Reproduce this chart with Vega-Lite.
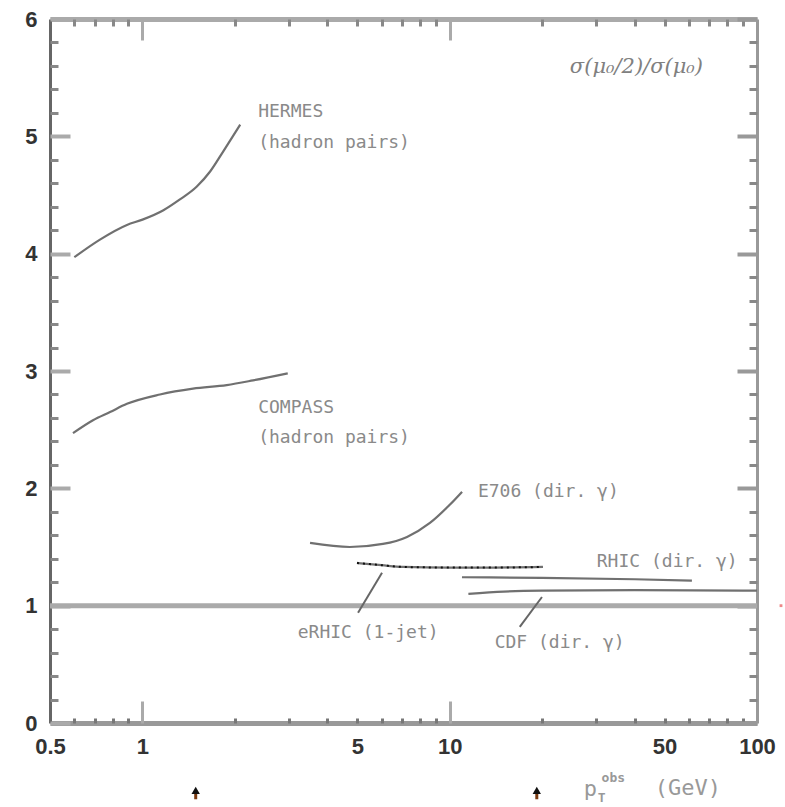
{
  "$schema": "https://vega.github.io/schema/vega-lite/v6.json",
  "width": 707,
  "height": 704,
  "autosize": {"type": "none"},
  "padding": {"left": 50, "top": 19, "right": 28, "bottom": 84},
  "background": "white",
  "config": {"view": {"stroke": null}, "axis": {"grid": false}},
  "datasets": {
    "curves": [
      {"series": "HERMES", "x": 0.6, "y": 3.97},
      {"series": "HERMES", "x": 0.727, "y": 4.12},
      {"series": "HERMES", "x": 0.89, "y": 4.245},
      {"series": "HERMES", "x": 1.0, "y": 4.29},
      {"series": "HERMES", "x": 1.17, "y": 4.37},
      {"series": "HERMES", "x": 1.32, "y": 4.46},
      {"series": "HERMES", "x": 1.5, "y": 4.57},
      {"series": "HERMES", "x": 1.66, "y": 4.7},
      {"series": "HERMES", "x": 1.83, "y": 4.87},
      {"series": "HERMES", "x": 2.08, "y": 5.1},
      {"series": "COMPASS", "x": 0.594, "y": 2.47},
      {"series": "COMPASS", "x": 0.69, "y": 2.58},
      {"series": "COMPASS", "x": 0.784, "y": 2.65},
      {"series": "COMPASS", "x": 0.89, "y": 2.72},
      {"series": "COMPASS", "x": 1.14, "y": 2.8},
      {"series": "COMPASS", "x": 1.46, "y": 2.85},
      {"series": "COMPASS", "x": 1.88, "y": 2.88},
      {"series": "COMPASS", "x": 2.29, "y": 2.92},
      {"series": "COMPASS", "x": 2.97, "y": 2.98},
      {"series": "E706", "x": 3.51, "y": 1.535},
      {"series": "E706", "x": 4.73, "y": 1.5},
      {"series": "E706", "x": 6.06, "y": 1.526},
      {"series": "E706", "x": 7.26, "y": 1.586},
      {"series": "E706", "x": 8.62, "y": 1.705},
      {"series": "E706", "x": 10.0, "y": 1.86},
      {"series": "E706", "x": 10.96, "y": 1.97},
      {"series": "eRHIC", "x": 4.99, "y": 1.364},
      {"series": "eRHIC", "x": 6.0, "y": 1.345},
      {"series": "eRHIC", "x": 7.04, "y": 1.33},
      {"series": "eRHIC", "x": 10, "y": 1.325},
      {"series": "eRHIC", "x": 14, "y": 1.325},
      {"series": "eRHIC", "x": 20.1, "y": 1.33},
      {"series": "RHIC", "x": 10.96, "y": 1.242},
      {"series": "RHIC", "x": 20, "y": 1.237},
      {"series": "RHIC", "x": 40, "y": 1.225},
      {"series": "RHIC", "x": 61.4, "y": 1.213},
      {"series": "CDF", "x": 11.5, "y": 1.1},
      {"series": "CDF", "x": 15, "y": 1.12},
      {"series": "CDF", "x": 20, "y": 1.128},
      {"series": "CDF", "x": 40, "y": 1.132},
      {"series": "CDF", "x": 100, "y": 1.128},
      {"series": "eRHIC pointer", "x": 6.02, "y": 1.28},
      {"series": "eRHIC pointer", "x": 5.03, "y": 0.94},
      {"series": "CDF pointer", "x": 19.96, "y": 1.074},
      {"series": "CDF pointer", "x": 16.9, "y": 0.82}
    ],
    "labels": [
      {"text": "HERMES", "x": 2.38, "y": 5.21},
      {"text": "(hadron pairs)", "x": 2.38, "y": 4.94},
      {"text": "COMPASS", "x": 2.38, "y": 2.685},
      {"text": "(hadron pairs)", "x": 2.38, "y": 2.43},
      {"text": "E706 (dir. γ)", "x": 12.35, "y": 1.97},
      {"text": "RHIC (dir. γ)", "x": 30.1, "y": 1.37},
      {"text": "eRHIC (1-jet)", "x": 3.2, "y": 0.77},
      {"text": "CDF (dir. γ)", "x": 14.0, "y": 0.68}
    ],
    "sigma": [{"text": "σ(μ₀/2)/σ(μ₀)", "x": 24.6, "y": 5.59}],
    "titleBig": [
      {"text": "p", "x": 27.3, "y": -0.56},
      {"text": "(GeV)", "x": 46.5, "y": -0.554}
    ],
    "titleSmall": [
      {"text": "T", "x": 30.3, "y": -0.64},
      {"text": "obs", "x": 31.2, "y": -0.47}
    ],
    "arrowStems": [
      {"x": 1.49, "y": -0.65},
      {"x": 19.2, "y": -0.65}
    ],
    "arrowHeads": [
      {"x": 1.49, "y": -0.575},
      {"x": 19.2, "y": -0.575}
    ],
    "one": [{"y": 1}],
    "dot": [{"x": 119.7, "y": 1.0}]
  },
  "resolve": {"axis": {"x": "independent", "y": "independent"}},
  "layer": [
    {
      "data": {"name": "one"},
      "mark": {"type": "rule", "color": "#aaaaaa", "strokeWidth": 5},
      "encoding": {
        "y": {
          "field": "y", "type": "quantitative",
          "scale": {"domain": [0, 6], "nice": false, "zero": false},
          "axis": {"orient": "left", "values": [0, 1, 2, 3, 4, 5, 6], "ticks": false, "labelPadding": 13,
                   "labelFont": "Liberation Sans", "labelFontSize": 22, "labelFontWeight": "bold", "labelColor": "#333", "title": null,
                   "domain": true, "domainColor": "#666", "domainWidth": 3}
        }
      }
    },
    {
      "data": {"name": "curves"},
      "transform": [{"filter": "datum.series != 'eRHIC pointer' && datum.series != 'CDF pointer'"}],
      "mark": {"type": "line", "color": "#707070", "strokeWidth": 2.2, "interpolate": "monotone"},
      "encoding": {
        "x": {
          "field": "x", "type": "quantitative",
          "scale": {"type": "log", "domain": [0.5, 100], "nice": false},
          "axis": {"orient": "bottom", "values": [0.5, 1, 5, 10, 50, 100], "ticks": false, "labelPadding": 13,
                   "labelFlush": false, "labelFont": "Liberation Sans", "labelFontSize": 22, "labelFontWeight": "bold", "labelColor": "#333",
                   "title": null, "domain": true, "domainColor": "#999", "domainWidth": 5, "format": "~g"}
        },
        "y": {
          "field": "y", "type": "quantitative",
          "scale": {"domain": [0, 6], "nice": false, "zero": false},
          "axis": {"orient": "left", "values": [0, 1, 2, 3, 4, 5, 6], "labels": false, "domain": false,
                   "tickSize": -20, "tickColor": "#aaa", "tickWidth": 4, "title": null}
        },
        "detail": {"field": "series"}
      }
    },
    {
      "data": {"name": "curves"},
      "transform": [{"filter": "datum.series == 'eRHIC'"}],
      "mark": {"type": "line", "color": "#111", "strokeWidth": 2, "strokeDash": [2, 4], "interpolate": "monotone"},
      "encoding": {
        "x": {
          "field": "x", "type": "quantitative",
          "scale": {"type": "log", "domain": [0.5, 100], "nice": false},
          "axis": {"orient": "bottom", "values": [1, 10], "labels": false, "domain": false,
                   "tickSize": -22, "tickColor": "#aaa", "tickWidth": 3, "title": null}
        },
        "y": {
          "field": "y", "type": "quantitative",
          "scale": {"domain": [0, 6], "nice": false, "zero": false},
          "axis": {"orient": "left", "values": [0.2, 0.4, 0.6, 0.8, 1.2, 1.4, 1.6, 1.8, 2.2, 2.4, 2.6, 2.8, 3.2, 3.4, 3.6, 3.8, 4.2, 4.4, 4.6, 4.8, 5.2, 5.4, 5.6, 5.8],
                   "labels": false, "domain": false, "tickSize": -8, "tickColor": "#888", "tickWidth": 3, "title": null}
        }
      }
    },
    {
      "data": {"name": "curves"},
      "transform": [{"filter": "datum.series == 'eRHIC pointer' || datum.series == 'CDF pointer'"}],
      "mark": {"type": "line", "color": "#666", "strokeWidth": 2},
      "encoding": {
        "x": {
          "field": "x", "type": "quantitative",
          "scale": {"type": "log", "domain": [0.5, 100], "nice": false},
          "axis": {"orient": "bottom", "values": [0.6, 0.7, 0.8, 0.9, 2, 3, 4, 5, 6, 7, 8, 9, 20, 30, 40, 50, 60, 70, 80, 90],
                   "labels": false, "domain": false, "tickSize": -5, "tickColor": "#777", "tickWidth": 3, "title": null}
        },
        "y": {
          "field": "y", "type": "quantitative",
          "scale": {"domain": [0, 6], "nice": false, "zero": false},
          "axis": {"orient": "right", "values": [0, 1, 2, 3, 4, 5, 6], "labels": false, "domain": true,
                   "domainColor": "#999", "domainWidth": 3,
                   "tickSize": -20, "tickColor": "#999", "tickWidth": 4, "title": null}
        },
        "detail": {"field": "series"}
      }
    },
    {
      "data": {"name": "labels"},
      "mark": {"type": "text", "align": "left", "baseline": "middle", "font": "DejaVu Sans Mono", "fontSize": 18, "color": "#8a8a8a"},
      "encoding": {
        "x": {
          "field": "x", "type": "quantitative",
          "scale": {"type": "log", "domain": [0.5, 100], "nice": false},
          "axis": {"orient": "top", "values": [1, 10], "labels": false, "domain": true, "domainColor": "#aaa", "domainWidth": 5,
                   "tickSize": -21, "tickColor": "#aaa", "tickWidth": 3, "title": null}
        },
        "y": {
          "field": "y", "type": "quantitative",
          "scale": {"domain": [0, 6], "nice": false, "zero": false},
          "axis": {"orient": "right", "values": [0.2, 0.4, 0.6, 0.8, 1.2, 1.4, 1.6, 1.8, 2.2, 2.4, 2.6, 2.8, 3.2, 3.4, 3.6, 3.8, 4.2, 4.4, 4.6, 4.8, 5.2, 5.4, 5.6, 5.8],
                   "labels": false, "domain": false, "tickSize": -8, "tickColor": "#888", "tickWidth": 3, "title": null}
        },
        "text": {"field": "text"}
      }
    },
    {
      "data": {"name": "sigma"},
      "mark": {"type": "text", "align": "left", "baseline": "middle", "font": "DejaVu Serif", "fontStyle": "italic", "fontSize": 21, "color": "#808080"},
      "encoding": {
        "x": {
          "field": "x", "type": "quantitative",
          "scale": {"type": "log", "domain": [0.5, 100], "nice": false},
          "axis": {"orient": "top", "values": [0.6, 0.7, 0.8, 0.9, 2, 3, 4, 5, 6, 7, 8, 9, 20, 30, 40, 50, 60, 70, 80, 90],
                   "labels": false, "domain": false, "tickSize": -7, "tickColor": "#888", "tickWidth": 3, "title": null}
        },
        "y": {"field": "y", "type": "quantitative", "scale": {"domain": [0, 6], "nice": false, "zero": false}, "axis": null},
        "text": {"field": "text"}
      }
    },
    {
      "data": {"name": "titleBig"},
      "mark": {"type": "text", "align": "left", "baseline": "middle", "font": "DejaVu Sans Mono", "fontSize": 22, "color": "#999"},
      "encoding": {
        "x": {"field": "x", "type": "quantitative", "scale": {"type": "log", "domain": [0.5, 100], "nice": false}, "axis": null},
        "y": {"field": "y", "type": "quantitative", "scale": {"domain": [0, 6], "nice": false, "zero": false}, "axis": null},
        "text": {"field": "text"}
      }
    },
    {
      "data": {"name": "titleSmall"},
      "mark": {"type": "text", "align": "left", "baseline": "middle", "font": "DejaVu Sans Mono", "fontSize": 13, "fontWeight": "bold", "color": "#999"},
      "encoding": {
        "x": {"field": "x", "type": "quantitative", "scale": {"type": "log", "domain": [0.5, 100], "nice": false}, "axis": null},
        "y": {"field": "y", "type": "quantitative", "scale": {"domain": [0, 6], "nice": false, "zero": false}, "axis": null},
        "text": {"field": "text"}
      }
    },
    {
      "data": {"name": "arrowStems"},
      "mark": {"type": "rule", "color": "#7a3a10", "strokeWidth": 3},
      "encoding": {
        "x": {"field": "x", "type": "quantitative", "scale": {"type": "log", "domain": [0.5, 100], "nice": false}, "axis": null},
        "y": {"field": "y", "type": "quantitative", "scale": {"domain": [0, 6], "nice": false, "zero": false}, "axis": null},
        "y2": {"datum": -0.575}
      }
    },
    {
      "data": {"name": "arrowHeads"},
      "mark": {"type": "point", "shape": "triangle-up", "filled": true, "size": 70, "color": "#111", "opacity": 1},
      "encoding": {
        "x": {"field": "x", "type": "quantitative", "scale": {"type": "log", "domain": [0.5, 100], "nice": false}, "axis": null},
        "y": {"field": "y", "type": "quantitative", "scale": {"domain": [0, 6], "nice": false, "zero": false}, "axis": null}
      }
    },
    {
      "data": {"name": "dot"},
      "mark": {"type": "square", "color": "#e88", "size": 8, "opacity": 1},
      "encoding": {
        "x": {"field": "x", "type": "quantitative", "scale": {"type": "log", "domain": [0.5, 100], "nice": false}, "axis": null},
        "y": {"field": "y", "type": "quantitative", "scale": {"domain": [0, 6], "nice": false, "zero": false}, "axis": null}
      }
    }
  ]
}
